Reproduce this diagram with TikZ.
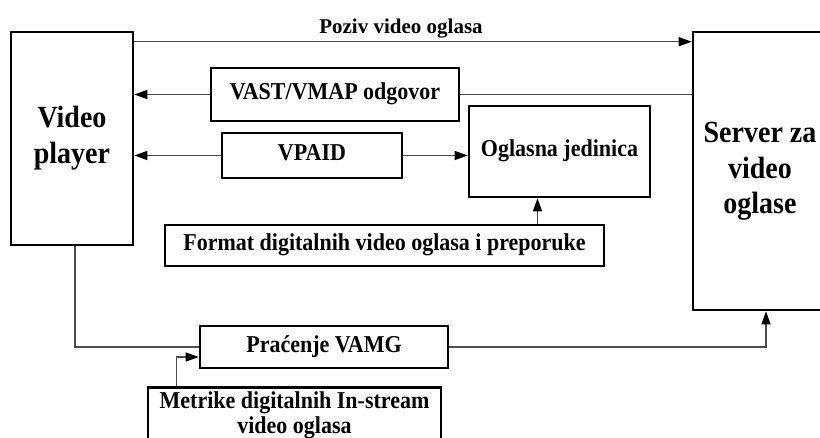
\documentclass[tikz,border=0pt]{standalone}
\usepackage{fontspec}
\usepackage{graphicx}
\setmainfont{Liberation Serif}
\usetikzlibrary{arrows.meta,calc}
\newcommand\vstr[1]{\scalebox{1}[1.1]{\begin{tabular}{@{}c@{}}#1\end{tabular}}}
\begin{document}
\begin{tikzpicture}[x=1pt,y=-1pt,
  box/.style={draw=black,line width=2.6pt,rectangle,inner sep=0pt,align=center,font=\bfseries\fontsize{22}{24}\selectfont},
  bigbox/.style={box,font=\bfseries\fontsize{28}{32}\selectfont},
  conn/.style={draw=black!70,line width=1.3pt},
  arr/.style={conn,-{Triangle[length=13pt,width=9pt,color=black]}}]
\useasboundingbox (0,0) rectangle (820,438);
\node[bigbox,minimum width=122pt,minimum height=213pt] (vp) at (72,138.5) {\vstr{Video\\player}};
\node[bigbox,minimum width=134pt,minimum height=278pt] (srv) at (760,171) {\raisebox{-4pt}{\vstr{Server za\\video\\oglase}}};
\node[box,minimum width=248pt,minimum height=53pt] (vast) at (335,94.5) {\vstr{VAST/VMAP odgovor}};
\node[box,minimum width=180pt,minimum height=45pt] (vpaid) at (312,155.5) {\vstr{VPAID}};
\node[box,minimum width=181pt,minimum height=91pt] (ogl) at (559.5,151.5) {\vstr{Oglasna jedinica}};
\node[box,minimum width=439pt,minimum height=41pt] (fmt) at (384.5,245.5) {\vstr{Format digitalnih video oglasa i preporuke}};
\node[box,minimum width=248pt,minimum height=42pt] (prac) at (324,347) {\vstr{Pra\'cenje VAMG}};
\node[box,minimum width=293pt,minimum height=66pt,anchor=north,inner ysep=3pt,font=\bfseries\fontsize{22}{23}\selectfont,text depth=30pt] (met) at (294.5,386) {\vstr{Metrike digitalnih In-stream\\video oglasa}};
\node[font=\bfseries\fontsize{21}{22}\selectfont,anchor=base,inner sep=0pt] (poz) at (401,34) {Poziv video oglasa};
% connectors
\coordinate (pozA) at ($(vp.north east)+(0,11)$);
\draw[arr] (pozA) -- (pozA -| srv.west);
\draw[arr] (vast.west) -- (vast.west -| vp.east);
\draw[conn] (vast.east) -- (vast.east -| srv.west);
\draw[arr] (vpaid.west) -- (vpaid.west -| vp.east);
\draw[arr] (vpaid.east) -- (vpaid.east -| ogl.west);
\coordinate (fmtA) at ($(ogl.south)+(-22,0)$);
\draw[arr] (fmtA |- fmt.north) -- (fmtA);
\coordinate (vpB) at ($(vp.south)+(3,0)$);
\draw[conn] (vpB) |- (prac.west);
\coordinate (metA) at ($(met.north west)+(30,0)$);
\coordinate (pracB) at ($(prac.west)+(0,10)$);
\draw[arr] (metA) |- (pracB);
\coordinate (srvB) at ($(srv.south)+(6,0)$);
\draw[arr] (prac.east) -| (srvB);
\end{tikzpicture}
\end{document}
